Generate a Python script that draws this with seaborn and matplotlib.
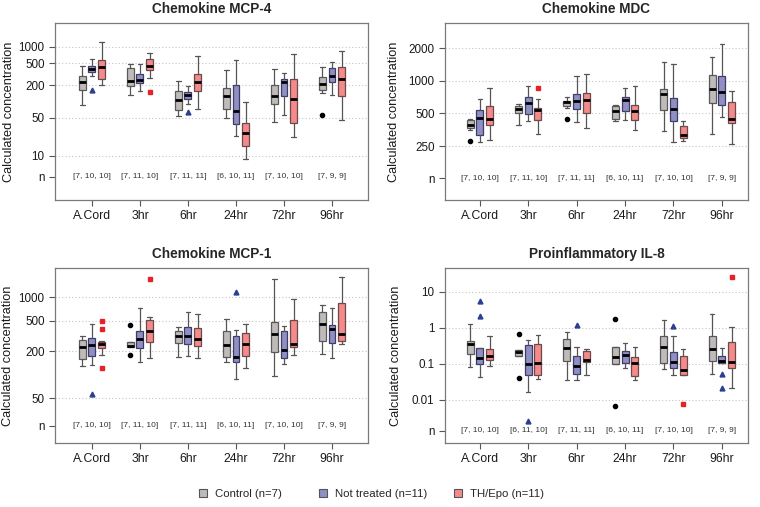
import matplotlib
matplotlib.use('Agg')
import matplotlib.pyplot as plt
import seaborn as sns
from matplotlib.lines import Line2D

# --- data: (whislo, q1, median, q3, whishi) per time point ---
groups = ['A.Cord', '3hr', '6hr', '24hr', '72hr', '96hr']
arm_labels = ['Control (n=7)', 'Not treated (n=11)', 'TH/Epo (n=11)']

mcp4_control = [[85, 165, 225, 298, 442], [131, 190, 238, 412, 494], [53, 69, 108, 158, 234],
                [50, 74, 124, 177, 384], [42, 88, 124, 204, 389], [141, 165, 212, 277, 430]]
mcp4_nottreated = [[290, 347, 389, 448, 611], [154, 218, 251, 315, 494], [89, 110, 133, 147, 192],
                   [23, 38, 66, 201, 586], [57, 128, 225, 259, 338], [131, 225, 294, 412, 531]]
mcp4_thepo = [[200, 255, 430, 569, 1235], [266, 373, 442, 611, 776], [73, 154, 225, 324, 693],
              [8.9, 15.5, 26, 41, 98], [22, 40, 110, 259, 733], [46, 128, 255, 430, 832]]
mcp4_out_control = [[], [], [], [], [], [56]]
mcp4_out_nottreated = [[160], [], [63], [], [], []]
mcp4_out_thepo = [[], [151], [], [], [], []]

mdc_control = [[355, 368, 395, 439, 449], [395, 510, 555, 592, 609], [567, 592, 635, 653, 711],
               [424, 449, 528, 583, 596], [343, 536, 748, 843, 1477], [326, 631, 843, 1120, 1643]]
mdc_nottreated = [[271, 317, 455, 543, 677], [427, 499, 631, 716, 899], [418, 555, 653, 753, 1104],
                  [433, 528, 663, 711, 850], [275, 427, 551, 696, 1415], [462, 596, 780, 1112, 2167]]
mdc_thepo = [[283, 392, 449, 592, 850], [326, 433, 543, 563, 677], [370, 510, 663, 775, 1152],
             [350, 433, 528, 600, 899], [277, 297, 319, 384, 427], [263, 409, 449, 635, 797]]
mdc_out_control = [[277], [], [449], [], [], []]
mdc_out_nottreated = [[], [], [], [], [], []]
mdc_out_thepo = [[], [850], [], [], [], []]

mcp1_control = [[128, 161, 230, 284, 320], [228, 228, 233, 262, 262], [168, 254, 320, 367, 414],
                [146, 168, 242, 371, 525], [97, 195, 336, 484, 1725], [185, 270, 457, 646, 796]]
mcp1_nottreated = [[132, 173, 242, 298, 452], [147, 223, 289, 364, 721], [173, 249, 320, 414, 640],
                   [89, 144, 168, 313, 382], [139, 164, 207, 367, 422], [164, 257, 390, 439, 721]]
mcp1_thepo = [[181, 219, 247, 267, 273], [164, 265, 364, 514, 551], [166, 237, 289, 402, 615],
              [123, 175, 252, 343, 448], [180, 228, 252, 514, 951], [249, 273, 336, 853, 1832]]
mcp1_out_control = [[], [444, 178], [], [], [], []]
mcp1_out_nottreated = [[56], [], [], [1172], [], []]
mcp1_out_thepo = [[499, 390, 121], [1742], [], [], [], []]

il8_control = [[0.084, 0.186, 0.36, 0.435, 1.26], [0.163, 0.163, 0.215, 0.24, 0.24],
               [0.037, 0.119, 0.284, 0.494, 0.79], [0.1, 0.1, 0.16, 0.296, 0.296],
               [0.073, 0.107, 0.29, 0.587, 1.7], [0.053, 0.124, 0.261, 0.587, 2.45]]
il8_nottreated = [[0.0435, 0.102, 0.147, 0.278, 0.28], [0.0163, 0.0484, 0.102, 0.337, 0.474],
                  [0.036, 0.054, 0.086, 0.163, 0.296], [0.079, 0.107, 0.174, 0.23, 0.392],
                  [0.0484, 0.0774, 0.111, 0.211, 0.612], [0.107, 0.107, 0.124, 0.17, 0.284]]
il8_thepo = [[0.088, 0.132, 0.163, 0.267, 0.587], [0.039, 0.0506, 0.109, 0.36, 0.64],
             [0.049, 0.116, 0.132, 0.225, 0.267], [0.036, 0.0474, 0.109, 0.156, 0.29],
             [0.0494, 0.0494, 0.0667, 0.17, 0.261], [0.022, 0.0774, 0.111, 0.4, 1.04]]
il8_out_control = [[], [0.667, 0.04], [], [1.82, 0.00667], [], []]
il8_out_nottreated = [[5.5, 2.2], [0.00267], [1.21], [], [1.16], [0.0516, 0.0211]]
il8_out_thepo = [[], [], [], [], [0.0076], [26.1]]

n_std = [[7, 10, 10], [7, 11, 10], [7, 11, 11], [6, 10, 11], [7, 10, 10], [7, 9, 9]]
n_il8 = [[7, 10, 10], [6, 11, 10], [7, 11, 11], [6, 10, 11], [7, 10, 10], [7, 9, 9]]

panels = [
    dict(title='Chemokine MCP-4', boxes=[mcp4_control, mcp4_nottreated, mcp4_thepo],
         outs=[mcp4_out_control, mcp4_out_nottreated, mcp4_out_thepo], n=n_std,
         ticks=[10, 50, 200, 500, 1000], ticklabels=['10', '50', '200', '500', '1000'],
         n_y=4.1, ylim=(1.55, 2750)),
    dict(title='Chemokine MDC', boxes=[mdc_control, mdc_nottreated, mdc_thepo],
         outs=[mdc_out_control, mdc_out_nottreated, mdc_out_thepo], n=n_std,
         ticks=[250, 500, 1000, 2000], ticklabels=['250', '500', '1000', '2000'],
         n_y=127, ylim=(80, 3400)),
    dict(title='Chemokine MCP-1', boxes=[mcp1_control, mcp1_nottreated, mcp1_thepo],
         outs=[mcp1_out_control, mcp1_out_nottreated, mcp1_out_thepo], n=n_std,
         ticks=[50, 200, 500, 1000], ticklabels=['50', '200', '500', '1000'],
         n_y=22, ylim=(13.1, 2400)),
    dict(title='Proinflammatory IL-8', boxes=[il8_control, il8_nottreated, il8_thepo],
         outs=[il8_out_control, il8_out_nottreated, il8_out_thepo], n=n_il8,
         ticks=[0.01, 0.1, 1, 10], ticklabels=['0.01', '0.1', '1', '10'],
         n_y=0.00138, ylim=(0.00064, 46)),
]

fills = ['#bfbbbb', '#8f8fc4', '#f48a8a']
edges = ['#5a5a5a', '#3c3c66', '#6a4a4a']
out_style = [dict(marker='o', mfc='black', mec='black', ms=3),
             dict(marker='^', mfc='#2b3f92', mec='#2b3f92', ms=3.5),
             dict(marker='s', mfc='#e8202a', mec='#e8202a', ms=3)]

sns.set_theme(style='white')
plt.rcParams['font.family'] = ['Liberation Sans', 'DejaVu Sans']

fig = plt.figure(figsize=(7.6, 5.07), dpi=100)
# axes rectangles in pixels: left, top, right, bottom
rects = [(55, 23, 368, 200), (445, 23, 748, 200), (55, 268, 368, 443), (445, 268, 748, 443)]
xlims = [(-0.77, 5.75), (-0.72, 5.54), (-0.77, 5.75), (-0.72, 5.54)]
ylab_x = [9, 394, 8, 396]

for p, rect, xl, lx in zip(panels, rects, xlims, ylab_x):
    l, t, r, b = rect
    ax = fig.add_axes([l / 760, 1 - b / 507, (r - l) / 760, (b - t) / 507])
    ax.set_yscale('log')
    for k in range(3):
        stats = []
        for g in range(len(groups)):
            lo, q1, med, q3, hi = p['boxes'][k][g]
            stats.append(dict(whislo=lo, q1=q1, med=med, q3=q3, whishi=hi, fliers=p['outs'][k][g]))
        pos = [g + (k - 1) * 0.2 for g in range(len(groups))]
        ax.bxp(stats, positions=pos, widths=0.145, patch_artist=True, capwidths=0.09,
               boxprops=dict(facecolor=fills[k], edgecolor=edges[k], linewidth=0.9),
               medianprops=dict(color='black', linewidth=2),
               whiskerprops=dict(color='#555555', linewidth=0.9),
               capprops=dict(color='#555555', linewidth=0.9),
               flierprops=dict(linestyle='none', **out_style[k]))
    for v in p['ticks']:
        ax.axhline(v, color='#c4c4c4', linewidth=0.8, linestyle=(0, (1, 2)), zorder=0)
    for g, counts in enumerate(p['n']):
        ax.text(g, p['n_y'], '[' + ', '.join(str(c) for c in counts) + ']',
                ha='center', va='center', fontsize=6, color='#333333')
    ax.set_ylim(*p['ylim'])
    ax.set_xlim(*xl)
    ax.set_yticks(p['ticks'] + [p['n_y']])
    ax.set_yticklabels(p['ticklabels'] + ['n'])
    ax.yaxis.set_minor_locator(matplotlib.ticker.NullLocator())
    ax.set_xticks(range(len(groups)))
    ax.set_xticklabels(groups)
    ax.tick_params(axis='both', length=4, width=0.8, color='#555555', labelsize=8.4,
                   labelcolor='#1a1a1a', left=True, bottom=True)
    ax.tick_params(axis='x', labelsize=8.8)
    for s in ax.spines.values():
        s.set_color('#7a7a7a')
        s.set_linewidth(0.9)
    ax.set_title(p['title'], fontsize=9.8, fontweight='bold', pad=7)
    fig.text(lx / 760, 1 - (t + b) / 2 / 507, 'Calculated concentration', rotation=90,
             ha='center', va='center', fontsize=9.2, color='#1a1a1a')

# legend entries placed one by one (uneven gaps like the original)
legend_x = [187, 307, 442]
for k in range(3):
    h = Line2D([], [], linestyle='none', marker='s', ms=6, mfc=fills[k], mec='#555555', mew=0.8)
    fig.legend([h], [arm_labels[k]], loc='center left', bbox_to_anchor=(legend_x[k] / 760, 1 - 494 / 507),
               frameon=False, fontsize=8.2, handletextpad=0.6, handlelength=1.0)

fig.savefig('out.png', dpi=100)
